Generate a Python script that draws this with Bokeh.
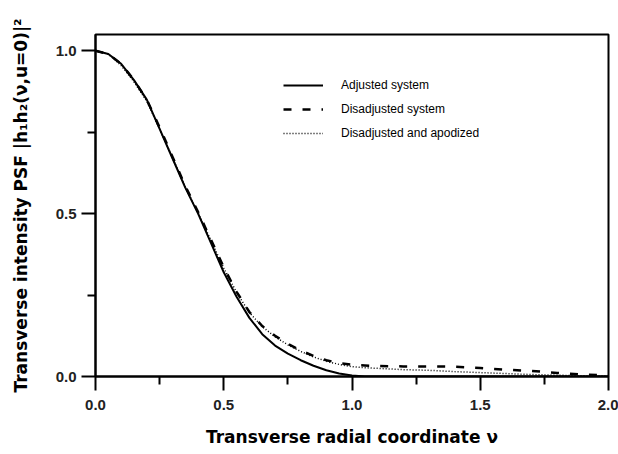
from bokeh.plotting import figure
from bokeh.models import Range1d, Legend, LegendItem, FixedTicker, NumeralTickFormatter
from bokeh.embed import file_html
from bokeh.resources import INLINE

# radial coordinate v
v = [0.0, 0.05, 0.1, 0.15, 0.2, 0.25, 0.3, 0.35, 0.4, 0.45, 0.5, 0.55, 0.6, 0.65,
     0.7, 0.75, 0.8, 0.85, 0.9, 0.95, 1.0, 1.05, 1.1, 1.2, 1.3, 1.4, 1.5, 1.6, 1.7,
     1.8, 1.9, 2.0]

adjusted = [1.0, 0.99, 0.96, 0.91, 0.85, 0.76, 0.67, 0.58, 0.50, 0.41, 0.32, 0.245,
            0.18, 0.13, 0.095, 0.07, 0.05, 0.033, 0.019, 0.009, 0.003, 0.0, 0.0, 0.0,
            0.0, 0.0, 0.0, 0.0, 0.0, 0.0, 0.0, 0.0]

disadjusted = [1.0, 0.99, 0.96, 0.91, 0.85, 0.765, 0.675, 0.585, 0.505, 0.42, 0.335,
               0.26, 0.198, 0.155, 0.125, 0.10, 0.08, 0.063, 0.05, 0.041, 0.036, 0.034,
               0.032, 0.031, 0.031, 0.03, 0.026, 0.021, 0.017, 0.011, 0.006, 0.003]

apodized = [1.0, 0.99, 0.955, 0.905, 0.845, 0.76, 0.672, 0.582, 0.502, 0.418, 0.333,
            0.258, 0.196, 0.153, 0.122, 0.097, 0.077, 0.06, 0.047, 0.037, 0.03, 0.027,
            0.025, 0.021, 0.019, 0.015, 0.012, 0.009, 0.006, 0.004, 0.002, 0.001]

series_labels = ["Adjusted system", "Disadjusted system", "Disadjusted and apodized"]
x_ticks = [0.0, 0.5, 1.0, 1.5, 2.0]
y_ticks = [0.0, 0.5, 1.0]

p = figure(width=618, height=454, output_backend="svg", toolbar_location=None,
           x_range=Range1d(0, 2.0), y_range=Range1d(0, 1.05),
           min_border_left=95, min_border_right=10, min_border_top=34, min_border_bottom=78)
p.background_fill_color = "white"
p.border_fill_color = "white"
p.outline_line_color = "black"
p.outline_line_width = 2
p.grid.visible = False

r1 = p.line(v, adjusted, line_color="black", line_width=2)
r2 = p.line(v, disadjusted, line_color="black", line_width=2.5, line_dash="8 11")
r3 = p.line(v, apodized, line_color="black", line_width=1.5, line_dash="1 2")

p.xaxis.ticker = FixedTicker(ticks=x_ticks, minor_ticks=[0.25, 0.75, 1.25, 1.75])
p.yaxis.ticker = FixedTicker(ticks=y_ticks, minor_ticks=[0.25, 0.75])
p.xaxis.formatter = NumeralTickFormatter(format="0.0")
p.yaxis.formatter = NumeralTickFormatter(format="0.0")

for ax in (p.xaxis, p.yaxis):
    ax.axis_line_width = 2
    ax.axis_line_color = "black"
    ax.major_tick_line_width = 2
    ax.minor_tick_line_width = 2
    ax.major_tick_out = 14
    ax.major_tick_in = 0
    ax.minor_tick_out = 8
    ax.minor_tick_in = 0
    ax.major_label_text_font = "Liberation Sans"
    ax.major_label_text_font_size = "15px"
    ax.major_label_text_font_style = "bold"
    ax.major_label_text_color = "#222222"
    ax.axis_label_text_font = "DejaVu Sans"
    ax.axis_label_text_font_style = "bold"
    ax.axis_label_text_font_size = "17px"
    ax.axis_label_text_color = "black"

p.xaxis.major_label_standoff = 9
p.yaxis.major_label_standoff = 5
p.xaxis.axis_label = "Transverse radial coordinate \u03bd"
p.yaxis.axis_label = "Transverse intensity PSF |h\u2081h\u2082(\u03bd,u=0)|\u00b2"
p.xaxis.axis_label_standoff = 14
p.yaxis.axis_label_standoff = 22

legend = Legend(items=[LegendItem(label=series_labels[0], renderers=[r1]),
                       LegendItem(label=series_labels[1], renderers=[r2]),
                       LegendItem(label=series_labels[2], renderers=[r3])],
                location=(188, 233))
legend.border_line_color = None
legend.background_fill_alpha = 0
legend.padding = 0
legend.margin = 0
legend.glyph_width = 40
legend.glyph_height = 20
legend.label_height = 20
legend.spacing = 4
legend.label_standoff = 18
legend.label_text_font = "Liberation Sans"
legend.label_text_font_size = "12px"
legend.label_text_color = "black"
p.add_layout(legend, "center")

open("out.html", "w").write(file_html(p, INLINE))
